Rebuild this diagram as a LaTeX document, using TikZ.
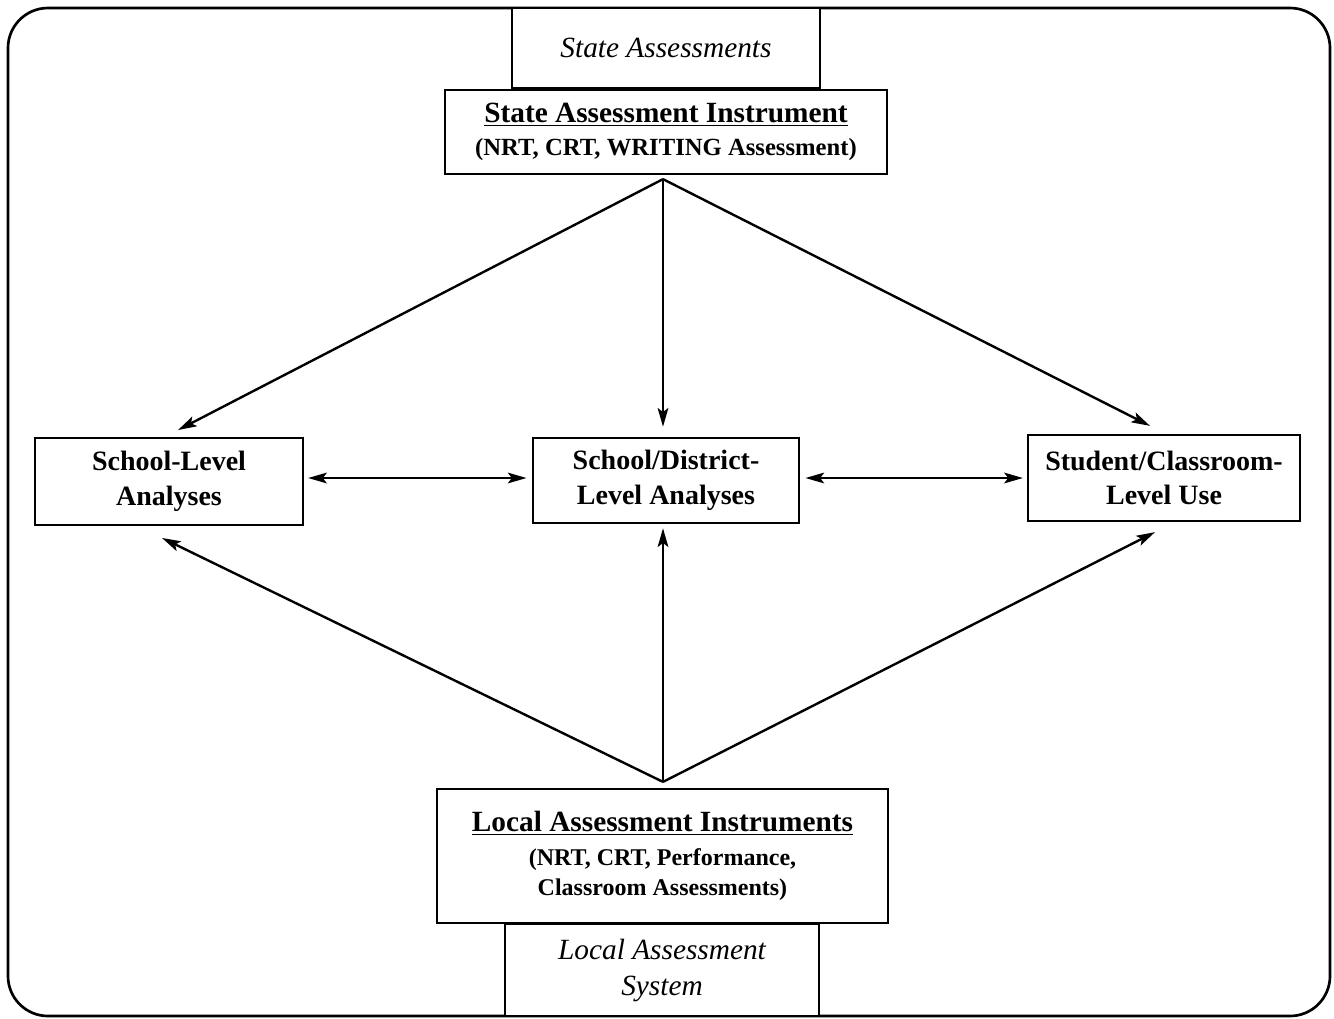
\documentclass[tikz,border=0pt]{standalone}
\usepackage{fontspec}
\setmainfont{Liberation Serif}
\usepackage{tikz}
\usetikzlibrary{arrows.meta, positioning}

\newcommand{\subsize}{\fontsize{18}{22.5}\selectfont}

\begin{document}
\begin{tikzpicture}[
        x=0.75pt, y=-0.75pt,
        >={Stealth[length=14pt, width=8pt, inset=3pt]},
        frame/.style={draw=black, line width=2pt, rounded corners=30pt},
        sys/.style={draw=black, line width=1.7pt, fill=white, inner sep=0pt, align=center, font=\fontsize{22}{27}\selectfont\itshape},
        instr/.style={draw=black, line width=1.7pt, fill=white, inner sep=0pt, align=center, font=\fontsize{22}{25.5}\selectfont\bfseries},
        level/.style={draw=black, line width=1.7pt, fill=white, inner sep=0pt, align=center, font=\fontsize{21}{26}\selectfont\bfseries},
        flow/.style={->, line width=1.8pt}
    ]
        \useasboundingbox (0,0) rectangle (1334,1018);
        \draw[frame] (8,8) rectangle (1330,1016);

        % top: state side
        \node[sys, minimum width=231pt, minimum height=60pt] (stateA) at (666,48) {State Assessments};
        \node[instr, minimum width=331.5pt, minimum height=63pt] (stateI) at (666,132)
            {\underline{State Assessment Instrument}\\[-1pt]{\fontsize{18.5}{22}\selectfont(NRT, CRT, WRITING Assessment)}};

        % middle row
        \node[level, minimum width=201pt, minimum height=65pt] (schoolL) at (169,481.5) {School-Level\\Analyses};
        \node[level, minimum width=200pt, minimum height=64pt] (district) at (666,480.5) {School/District-\\Level Analyses};
        \node[level, minimum width=204pt, minimum height=64.5pt] (student) at (1164,478) {Student/Classroom-\\Level Use};

        % bottom: local side
        \node[instr, font=\fontsize{22}{22.5}\selectfont\bfseries, minimum width=338pt, minimum height=100.5pt] (localI) at (662.5,856)
            {\underline{Local Assessment Instruments}\\[3pt]{\subsize(NRT, CRT, Performance,}\\{\subsize Classroom Assessments)}};
        \node[sys, minimum width=235.5pt, minimum height=69pt] (localS) at (662,970) {Local Assessment\\System};

        \coordinate (top) at ([shift={(-3,4)}]stateI.south);
        \coordinate (bot) at ([shift={(0.5,-6)}]localI.north);

        \draw[flow] (top) -- ([shift={(9,-7)}]schoolL.north);
        \draw[flow] (top) -- ([shift={(-3,-10)}]district.north);
        \draw[flow] (top) -- ([shift={(-14,-8)}]student.north);

        \draw[flow] (bot) -- ([shift={(-7,12)}]schoolL.south);
        \draw[flow] (bot) -- ([shift={(-3,4)}]district.south);
        \draw[flow] (bot) -- ([shift={(-9,10)}]student.south);

        \draw[flow, <->] ([shift={(4,-3.5)}]schoolL.east) -- ([shift={(-5,-2.5)}]district.west);
        \draw[flow, <->] ([shift={(5,-2.5)}]district.east) -- ([shift={(-4,0)}]student.west);
    \end{tikzpicture}
\end{document}
